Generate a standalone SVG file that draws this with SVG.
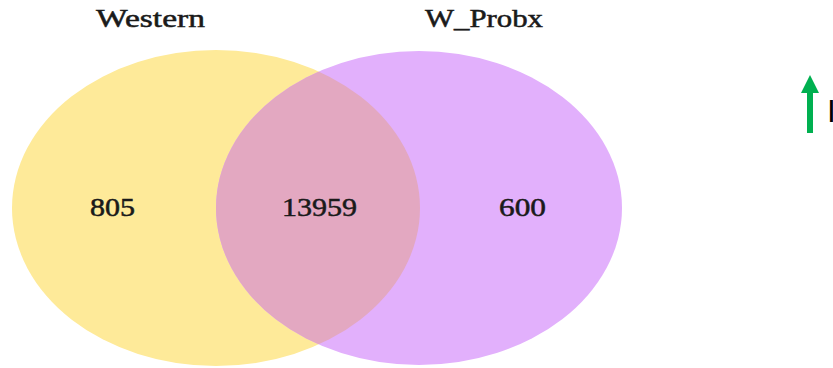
<svg xmlns="http://www.w3.org/2000/svg" width="833" height="368" viewBox="0 0 833 368">
<style>
.lbl{font-family:"Liberation Serif","Times New Roman",serif;font-size:25px;fill:#1a1a1a;stroke:#1a1a1a;stroke-width:0.5px}
</style>
<defs>
<clipPath id="clipP"><ellipse cx="419" cy="208" rx="203" ry="157"/></clipPath>
</defs>
<rect width="833" height="368" fill="#ffffff"/>
<g id="set-western">
<ellipse cx="216" cy="208" rx="204" ry="158" fill="#FEEA99"/>
</g>
<g id="set-wprobx">
<ellipse cx="419" cy="208" rx="203" ry="157" fill="#E2B0FC"/>
</g>
<g id="overlap">
<ellipse cx="216" cy="208" rx="204" ry="158" fill="#E3A8C1" clip-path="url(#clipP)"/>
</g>
<g id="labels">
<text class="lbl" x="96" y="27" textLength="109" lengthAdjust="spacingAndGlyphs">Western</text>
<text class="lbl" x="425" y="27" textLength="118" lengthAdjust="spacingAndGlyphs">W_Probx</text>
<text class="lbl" x="90" y="216" textLength="45" lengthAdjust="spacingAndGlyphs">805</text>
<text class="lbl" x="282" y="216" textLength="75" lengthAdjust="spacingAndGlyphs">13959</text>
<text class="lbl" x="499" y="216" textLength="47" lengthAdjust="spacingAndGlyphs">600</text>
</g>
<g id="connectors">
<rect x="807" y="92" width="6" height="41" fill="#00B050"/>
<polygon points="810,75 819,93 801,93" fill="#00B050"/>
</g>
<text x="827" y="122" font-family="Liberation Sans, Arial, sans-serif" font-size="32" fill="#000">I</text>
</svg>
